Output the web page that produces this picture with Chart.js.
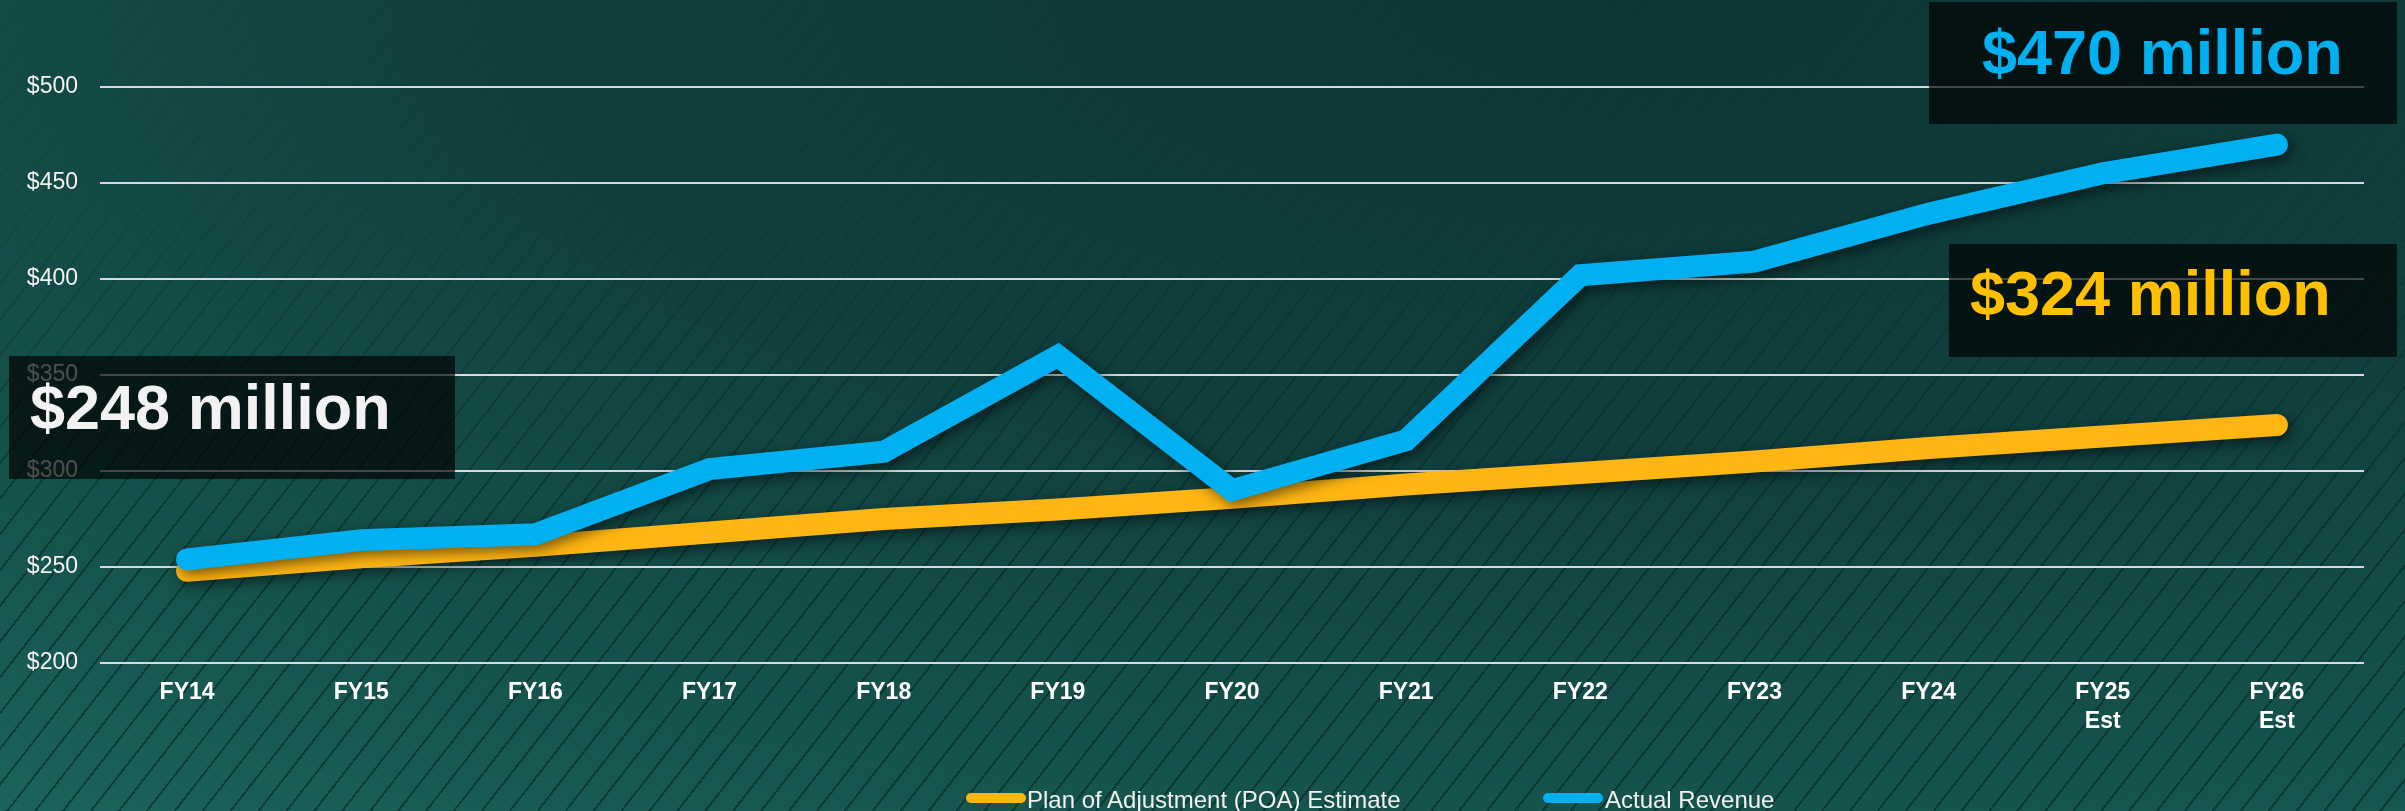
<!DOCTYPE html>
<html>
<head>
<meta charset="utf-8">
<script src="https://cdn.jsdelivr.net/npm/chart.js@4.4.1/dist/chart.umd.min.js"></script>
<style>
    html, body { margin: 0; padding: 0; }
    #wrap {
        position: relative;
        width: 2405px;
        height: 811px;
        overflow: hidden;
        font-family: "Liberation Sans", Arial, sans-serif;
        background: radial-gradient(ellipse 120% 140% at 68% 0%, #0c3636 0%, #10403e 40%, #16544e 72%, #1e6b61 100%);
    }
    #stripes {
        position: absolute;
        inset: 0;
        background: repeating-linear-gradient(128deg, rgba(0,0,0,0) 0px, rgba(0,0,0,0) 20px, rgba(4,38,36,0.6) 20px, rgba(4,38,36,0.6) 22px);
        -webkit-mask-image: linear-gradient(to top, #000 0%, #000 30%, rgba(0,0,0,0.15) 75%, rgba(0,0,0,0.1) 100%);
        mask-image: linear-gradient(to top, #000 0%, #000 30%, rgba(0,0,0,0.15) 75%, rgba(0,0,0,0.1) 100%);
    }
    canvas { position: absolute; left: 0; top: 0; }
    .callout {
        position: absolute;
        background: rgba(0, 0, 0, 0.68);
    }
    .callout span {
        position: absolute;
        font-weight: bold;
        font-size: 63px;
        line-height: 63px;
        white-space: nowrap;
    }
    .legend-item {
        position: absolute;
        top: 788px;
        font-size: 24px;
        line-height: 24px;
        color: #f2f2f2;
        white-space: nowrap;
    }
    .swatch {
        position: absolute;
        top: 793px;
        width: 60px;
        height: 10px;
        border-radius: 5px;
    }
</style>
</head>
<body>
<div id="wrap">
    <div id="stripes"></div>
    <canvas id="revenueChart" width="2405" height="811"></canvas>

    <div class="callout" style="left:9px; top:356px; width:446px; height:123px;">
        <span style="left:21px; top:20px; color:#f2f2f2;">$248 million</span>
    </div>
    <div class="callout" style="left:1929px; top:2px; width:468px; height:122px;">
        <span style="left:53px; top:19px; color:#00b0f0;">$470 million</span>
    </div>
    <div class="callout" style="left:1949px; top:244px; width:448px; height:113px;">
        <span style="left:21px; top:18px; color:#ffc000;">$324 million</span>
    </div>

    <div class="swatch" style="left:966px; background:#ffb612;"></div>
    <div class="legend-item" style="left:1027px;">Plan of Adjustment (POA) Estimate</div>
    <div class="swatch" style="left:1543px; background:#00b0f0;"></div>
    <div class="legend-item" style="left:1605px;">Actual Revenue</div>
</div>

<script>
// Data ($ millions)
const fiscalYears = [
    ['FY14'], ['FY15'], ['FY16'], ['FY17'], ['FY18'], ['FY19'], ['FY20'],
    ['FY21'], ['FY22'], ['FY23'], ['FY24'], ['FY25', 'Est'], ['FY26', 'Est']
];
const poaEstimate = [248, 255, 261, 268, 275, 280, 286, 293, 299, 305, 312, 318, 324];
const actualRevenue = [254, 264, 267, 301, 310, 360, 290, 316, 402, 409, 434, 455, 470];
const yTicks = [200, 250, 300, 350, 400, 450, 500];

const FONT = '"Liberation Sans", Arial, sans-serif';

// soft drop shadow under the thick lines
const lineShadow = {
    id: 'lineShadow',
    beforeDatasetsDraw(chart) {
        const ctx = chart.ctx;
        ctx.save();
        ctx.shadowColor = 'rgba(0, 0, 0, 0.55)';
        ctx.shadowBlur = 14;
        ctx.shadowOffsetX = 4;
        ctx.shadowOffsetY = 4;
    },
    afterDatasetsDraw(chart) {
        chart.ctx.restore();
    }
};

function initChart() {
    const ctx = document.getElementById('revenueChart').getContext('2d');

    new Chart(ctx, {
        type: 'line',
        data: {
            labels: fiscalYears,
            datasets: [
                {
                    label: 'Plan of Adjustment (POA) Estimate',
                    data: poaEstimate,
                    borderColor: '#ffb612',
                    borderWidth: 22,
                    borderCapStyle: 'round',
                    borderJoinStyle: 'miter',
                    pointRadius: 0,
                    tension: 0,
                    order: 2
                },
                {
                    label: 'Actual Revenue',
                    data: actualRevenue,
                    borderColor: '#00b0f0',
                    borderWidth: 22,
                    borderCapStyle: 'round',
                    borderJoinStyle: 'miter',
                    pointRadius: 0,
                    tension: 0,
                    order: 1
                }
            ]
        },
        options: {
            responsive: false,
            animation: false,
            layout: { padding: { top: 87, right: 41, left: 0, bottom: 0 } },
            plugins: {
                legend: { display: false },
                tooltip: { enabled: false }
            },
            scales: {
                x: {
                    offset: true,
                    grid: { display: false, drawTicks: false },
                    border: { display: false },
                    ticks: {
                        color: '#ffffff',
                        font: { family: FONT, size: 23, weight: 'bold', lineHeight: 1.23 },
                        padding: 16,
                        maxRotation: 0,
                        autoSkip: false
                    },
                    afterFit(scale) { scale.height = 148; }
                },
                y: {
                    min: 200,
                    max: 500,
                    afterBuildTicks(scale) {
                        scale.ticks = yTicks.map(v => ({ value: v }));
                    },
                    grid: { color: '#d9d9d9', lineWidth: 2, drawTicks: false },
                    border: { display: false },
                    ticks: {
                        color: '#f2f2f2',
                        font: { family: FONT, size: 23 },
                        padding: 22,
                        callback: v => '$' + v
                    },
                    afterFit(scale) { scale.width = 100; }
                }
            }
        },
        plugins: [lineShadow]
    });
}

document.addEventListener('DOMContentLoaded', initChart);
</script>
</body>
</html>
